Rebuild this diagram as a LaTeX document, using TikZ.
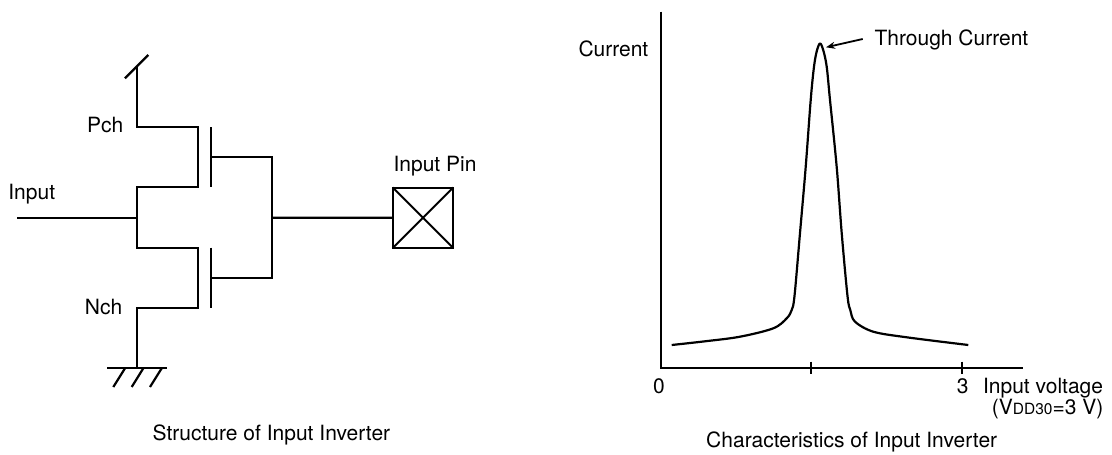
\documentclass[tikz,border=0pt]{standalone}
\usepackage{fontspec}
\setmainfont{TeX Gyre Heros}
\usetikzlibrary{arrows.meta}
\tikzset{
  lbl/.style={font=\fontsize{21}{25}\selectfont, inner sep=0pt, outer sep=0pt},
  wire/.style={line width=2.2pt, black},
  axisline/.style={line width=2.3pt, black},
  curveline/.style={line width=2.2pt, black, line join=round},
  pinbox/.style={draw, line width=2pt, minimum size=60.6pt, inner sep=0pt, outer sep=0pt},
  callout/.style={line width=1.8pt, -{Stealth[length=9pt,width=7pt]}}
}
\begin{document}
\begin{tikzpicture}[x=1pt,y=-1pt]
\useasboundingbox (0,0) rectangle (1112,455);

% ---------- Circuit ----------
\coordinate (vddA) at (125,78.3);
\coordinate (vddB) at (148.3,55);
\coordinate (vddT) at (137,66.3);
\coordinate (ps1) at (137,127.3);
\coordinate (ps2) at (198.3,127.3);
\coordinate (pd1) at (198.3,186.7);
\coordinate (pd2) at (137,186.7);
\coordinate (in) at (137,217.7);
\coordinate (inL) at (17,217.7);
\coordinate (nd1) at (137,247.7);
\coordinate (nd2) at (198.3,247.7);
\coordinate (ns1) at (198.3,308.3);
\coordinate (ns2) at (137,308.3);
\coordinate (gnd) at (137,368.3);
\coordinate (gpT) at (210.7,127.3);
\coordinate (gpB) at (210.7,186.7);
\coordinate (gnT) at (210.7,247.7);
\coordinate (gnB) at (210.7,308.3);
\coordinate (dp) at (210.7,156.7);
\coordinate (dp2) at (272.3,156.7);
\coordinate (dn) at (210.7,277.7);
\coordinate (dn2) at (272.3,277.7);
\coordinate (out) at (272.3,217.7);

\node[pinbox] (pin) at (423,217.8) {};
\draw[line width=2pt] (pin.north west) -- (pin.south east);
\draw[line width=2pt] (pin.south west) -- (pin.north east);

\draw[wire] (vddA) -- (vddB);
\draw[wire] (vddT) -- (ps1) -- (ps2) -- (pd1) -- (pd2) -- (nd1) -- (nd2) -- (ns1) -- (ns2) -- (gnd);
\draw[wire] (inL) -- (in);
\draw[wire] (gpT) -- (gpB);
\draw[wire] (gnT) -- (gnB);
\draw[wire] (dp) -- (dp2) -- (dn2) -- (dn);
\draw[wire] (out) -- (pin.west);

% ground
\coordinate (gL) at (107.3,368.3);
\coordinate (gR) at (166.7,368.3);
\draw[wire] (gL) -- (gR);
\draw[wire] (113.3,387) -- (125,368.3);
\draw[wire] (131.7,387) -- (143.3,368.3);
\draw[wire] (150,387) -- (161.7,368.3);

\node[lbl, anchor=base east] (pch) at (123.3,132.3) {Pch};
\node[lbl, anchor=base east] (nch) at (122.3,314) {Nch};
\node[lbl, anchor=base west] (inlbl) at (8.3,199.3) {Input};
\node[lbl, anchor=base] (pinlbl) at (435,171) {Input Pin};
\node[lbl, anchor=base west] (title1) at (152.7,440) {Structure of Input Inverter};

% ---------- Graph ----------
\coordinate (org) at (660.7,367.7);
\coordinate (ytop) at (660.7,11.7);
\coordinate (xend) at (1022.7,367.7);
\draw[axisline] (ytop) -- (org) -- (xend);
\coordinate (tk1) at (811,367.7);
\coordinate (tk2) at (962.3,367.7);
\draw[axisline] ([yshift=6pt]tk1) -- ([yshift=-6pt]tk1);
\draw[axisline] ([yshift=6pt]tk2) -- ([yshift=-6pt]tk2);

\draw[curveline] plot[smooth, tension=0.55] coordinates {
 (671.7,345) (705,341.3) (740,336.7) (773.3,328.3) (786.7,318.3) (791.7,310)
 (794.5,296) (800,233) (805.7,167) (810.7,100) (814,66.7) (816.8,51) (820,43.5)
 (823.2,50) (826.7,66.7) (830,100) (836.7,167) (841.7,233) (847.5,296)
 (850.3,310) (855,321.7) (873.3,331.7) (906.7,337.3) (968.3,345)};

\node[lbl, anchor=base east] (ylbl) at (648.3,56.7) {Current};
\node[lbl, anchor=base west] (peaklbl) at (874.5,45.7) {Through Current};
\coordinate (arrS) at (862.7,39);
\coordinate (arrE) at (826,47.3);
\draw[callout] (arrS) -- (arrE);

\node[lbl, anchor=base] (zero) at (659,393) {0};
\node[lbl, anchor=base] (three) at (962.7,393) {3};
\node[lbl, anchor=base west] (xlbl) at (983,393) {Input voltage};
\node[lbl, anchor=base east] (vdd) at (1103.3,414) {(V{\fontsize{15.5}{18}\selectfont DD30}=3 V)};
\node[lbl, anchor=base] (title2) at (851.7,447) {Characteristics of Input Inverter};
\end{tikzpicture}
\end{document}
